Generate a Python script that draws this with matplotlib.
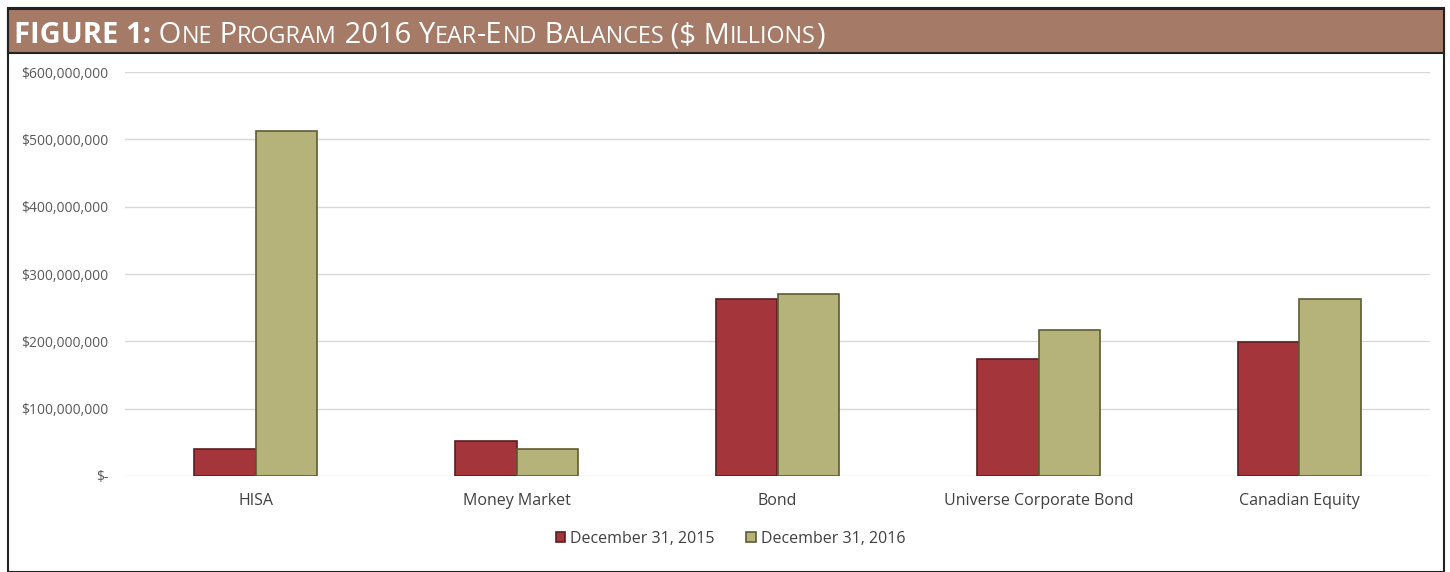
import matplotlib
matplotlib.use('Agg')
import matplotlib.pyplot as plt
from matplotlib.patches import Rectangle
from matplotlib.ticker import FuncFormatter
import numpy as np

categories = ['HISA', 'Money Market', 'Bond', 'Universe Corporate Bond', 'Canadian Equity']
bal_2015 = [40e6, 52e6, 263e6, 174e6, 199e6]
bal_2016 = [512e6, 40e6, 270e6, 217e6, 263e6]
series_names = ['December 31, 2015', 'December 31, 2016']

red = '#a3353b'
olive = '#b5b27a'
gray_txt = '#595959'

plt.rcParams['font.family'] = ['Open Sans', 'DejaVu Sans']

fig = plt.figure(figsize=(14.5, 5.72), dpi=100)

# outer frame and title banner
fig.add_artist(Rectangle((8/1450, 0), 1 - 14/1450, 1 - 8/572, transform=fig.transFigure,
                         fill=False, ec='#222222', lw=1.5))
fig.add_artist(Rectangle((8/1450, 1 - 53/572), 1 - 14/1450, 44/572, transform=fig.transFigure,
                         fc='#a57a66', ec='#222222', lw=1.5))

# title in small caps, built piece by piece
title_parts = [('FIGURE 1:', 21, 'bold', False),
               (' One Program 2016 Year-End Balances ($ Millions)', 21, 'normal', True)]
renderer = fig.canvas.get_renderer()
x = 14
ybase = 572 - 43
for text, size, weight, sc in title_parts:
    if sc:
        runs = []
        for ch in text:
            small = ch.islower()
            c = ch.upper()
            if runs and runs[-1][1] == small:
                runs[-1][0] += c
            else:
                runs.append([c, small])
    else:
        runs = [[text, False]]
    for s, small in runs:
        t = fig.text(x / 1450, ybase / 572, s, color='white', fontsize=size * (0.8 if small else 1.0),
                     fontweight=weight, va='baseline', ha='left', family='Open Sans')
        bb = t.get_window_extent(renderer=renderer)
        x += bb.width

ax = fig.add_axes([125/1450, (572-476)/572, (1430-125)/1450, (476-72)/572])
xpos = np.arange(len(categories))
w = 0.235
ax.bar(xpos - w/2, bal_2015, w, color=red, edgecolor='#5e1c1f', linewidth=1.2, label=series_names[0], zorder=3)
ax.bar(xpos + w/2, bal_2016, w, color=olive, edgecolor='#5d5b33', linewidth=1.2, label=series_names[1], zorder=3)

ax.set_ylim(0, 600e6)
ax.set_xlim(-0.5, len(categories) - 0.5)
ax.set_yticks(np.arange(0, 600e6 + 1, 100e6))
ax.yaxis.set_major_formatter(FuncFormatter(lambda v, p: '$-' if v == 0 else '${:,.0f}'.format(v)))
ax.set_xticks(xpos)
ax.set_xticklabels(categories)
ax.tick_params(axis='y', length=0, labelsize=10, labelcolor=gray_txt, pad=12)
ax.tick_params(axis='x', length=0, labelsize=11.5, labelcolor='#404040', pad=12)
ax.grid(axis='y', color='#d9d9d9', linewidth=1, zorder=0)
for s in ax.spines.values():
    s.set_visible(False)

leg = ax.legend(loc='upper center', bbox_to_anchor=(0.464, -0.1), ncol=2, frameon=False,
                fontsize=11.5, handlelength=0.6, handleheight=0.6, handletextpad=0.3,
                columnspacing=2.0, labelcolor='#404040')

fig.savefig('out.png', dpi=100)
